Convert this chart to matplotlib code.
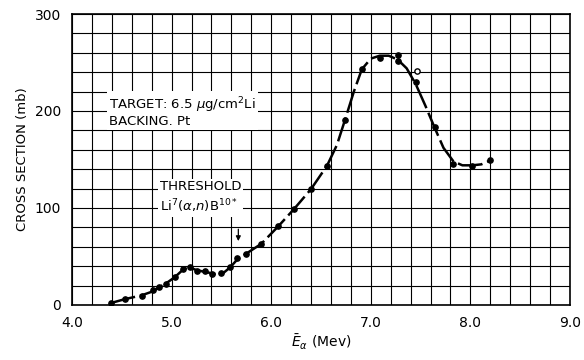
import numpy as np
import matplotlib.pyplot as plt

# measured points (MeV, mb)
energy = [4.39, 4.53, 4.70, 4.81, 4.87, 4.94, 5.03, 5.11, 5.18, 5.25, 5.34,
          5.41, 5.50, 5.59, 5.66, 5.75, 5.90, 6.07, 6.23, 6.40, 6.56, 6.74,
          6.91, 7.09, 7.27, 7.27, 7.45, 7.64, 7.83, 8.02, 8.20]
sigma = [2, 6, 9.5, 15, 19, 22, 28.5, 37, 39, 35, 35,
         32, 32.5, 39, 48, 52.5, 63, 81, 99, 119.5, 143.5, 190.5,
         243, 255, 258, 251.5, 230, 183, 145, 143.5, 149]
open_energy = [7.46]
open_sigma = [241]

# hand-drawn curve through the data
curve_e = [4.39, 4.53, 4.70, 4.81, 4.87, 4.94, 5.03, 5.11, 5.17, 5.25, 5.34,
           5.44, 5.52, 5.59, 5.66, 5.75, 5.90, 6.07, 6.23, 6.40, 6.56, 6.66,
           6.74, 6.83, 6.91, 7.00, 7.09, 7.18, 7.27, 7.36, 7.45, 7.55, 7.64,
           7.73, 7.83, 7.92, 8.02, 8.11, 8.20]
curve_s = [2, 6, 10, 14, 18, 22, 28.5, 36, 39, 36, 34,
           32, 33, 39, 47, 53, 63, 81, 99, 119.5, 143.5, 165,
           190.5, 220, 243, 254, 257, 257, 253, 244, 228, 205, 183,
           162, 148, 144, 144, 145, 149]

xticks = [4.0, 5.0, 6.0, 7.0, 8.0, 9.0]
yticks = [0, 100, 200, 300]

fig = plt.figure(figsize=(5.84, 3.6), dpi=100)
ax = fig.add_axes([0.1233, 0.1528, 0.8527, 0.8083])

ax.set_xlim(4.0, 9.0)
ax.set_ylim(0, 300)
ax.set_xticks(np.arange(4.0, 9.01, 0.2), minor=True)
ax.set_yticks(np.arange(0, 301, 20), minor=True)
ax.set_xticks(xticks)
ax.set_yticks(yticks)
ax.set_xticklabels([f"{t:.1f}" for t in xticks], fontsize=10)
ax.set_yticklabels([str(t) for t in yticks], fontsize=10)
ax.tick_params(which="both", length=0, pad=8)
ax.grid(which="both", color="black", linewidth=0.8)
ax.set_axisbelow(True)
for s in ax.spines.values():
    s.set_linewidth(1.2)

ax.plot(curve_e, curve_s, color="black", linewidth=1.8,
        dashes=(10, 2), zorder=3)
ax.plot(energy, sigma, "o", color="black", markersize=3.8, zorder=4)
ax.plot(open_energy, open_sigma, "o", mfc="white", mec="black",
        markersize=3.8, zorder=4)

box = dict(facecolor="white", edgecolor="none", pad=1.5)
ax.text(4.37, 199, "TARGET: 6.5 $\\mu$g/cm$^2$Li\nBACKING. Pt", fontsize=9.5,
        bbox=box, va="center", ha="left", linespacing=1.0)
ax.text(4.88, 111, "THRESHOLD\nLi$^7$($\\alpha$,$n$)B$^{10*}$", fontsize=9.5,
        bbox=box, va="center", ha="left", linespacing=1.3)
ax.annotate("", xy=(5.67, 63), xytext=(5.67, 81),
            arrowprops=dict(arrowstyle="-|>", color="black", lw=0.9,
                            mutation_scale=7))

ax.set_ylabel("CROSS SECTION (mb)", fontsize=9.5, labelpad=4)
ax.set_xlabel("$\\bar{E}_\\alpha$ (Mev)", fontsize=10, labelpad=2)

fig.savefig("out.png", dpi=100)
